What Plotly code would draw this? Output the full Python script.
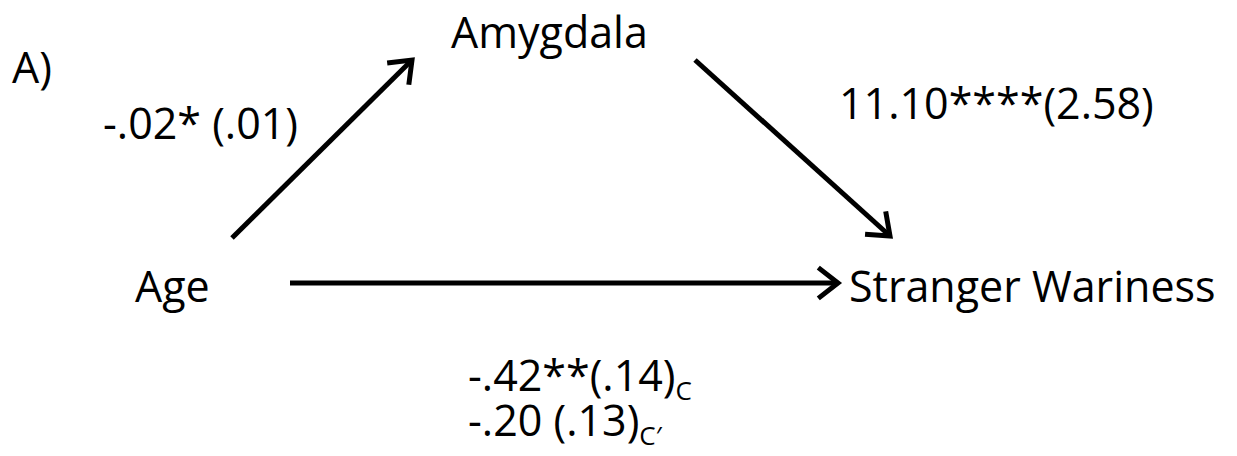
import math
import plotly.graph_objects as go

W, H = 1237, 456
OFF = 8  # page body margin
FONT = "Open Sans"
FS = 43

# Node labels and positions (page pixel space)
node_labels = ["Amygdala", "Age", "Stranger Wariness"]
node_x = [549, 172, 1032]
node_y = [31, 285, 285]

# Path coefficient labels
sub_c = "<sub><span style='font-size:26px'>C</span></sub>"
sub_cp = "<sub><span style='font-size:26px'>C\u2032</span></sub>"
coef_labels = ["-.02* (.01)", "11.10****(2.58)", "-.42**(.14)" + sub_c, "-.20 (.13)" + sub_cp]
coef_x = [200, 996, 466, 466]
coef_y = [122, 102, 376, 421]
coef_anchor = ["center", "center", "left", "left"]

panel_label = "A)"

# Arrows: (start, end)
arrow_start = [(232, 238), (695, 60), (290, 283)]
arrow_end = [(412, 60), (890, 236), (838, 283)]

fig = go.Figure()

for (x0, y0), (x1, y1) in zip(arrow_start, arrow_end):
    ang = math.atan2(y1 - y0, x1 - x0)
    L = 25
    spread = math.radians(38)
    hx1 = x1 - L * math.cos(ang - spread)
    hy1 = y1 - L * math.sin(ang - spread)
    hx2 = x1 - L * math.cos(ang + spread)
    hy2 = y1 - L * math.sin(ang + spread)
    fig.add_trace(go.Scatter(x=[x0, x1], y=[y0, y1], mode="lines",
                             line=dict(color="black", width=5), hoverinfo="skip"))
    fig.add_trace(go.Scatter(x=[hx1, x1, hx2], y=[hy1, y1, hy2], mode="lines",
                             line=dict(color="black", width=5), hoverinfo="skip"))

for t, x, y in zip(node_labels, node_x, node_y):
    fig.add_annotation(x=x, y=y, text=t, showarrow=False, xanchor="center", yanchor="middle",
                       font=dict(family=FONT, size=FS, color="black"))

for t, x, y, a in zip(coef_labels, coef_x, coef_y, coef_anchor):
    fig.add_annotation(x=x, y=y, text=t, showarrow=False, xanchor=a, yanchor="middle",
                       font=dict(family=FONT, size=FS, color="black"))

fig.add_annotation(x=10, y=66, text=panel_label, showarrow=False, xanchor="left", yanchor="middle",
                   font=dict(family=FONT, size=FS, color="black"))

fig.update_layout(
    width=W, height=H, margin=dict(l=0, r=0, t=0, b=0),
    paper_bgcolor="white", plot_bgcolor="white", showlegend=False,
    xaxis=dict(range=[OFF, W + OFF], visible=False, fixedrange=True),
    yaxis=dict(range=[H + OFF, OFF], visible=False, fixedrange=True),
)

fig.write_html("out.html")
